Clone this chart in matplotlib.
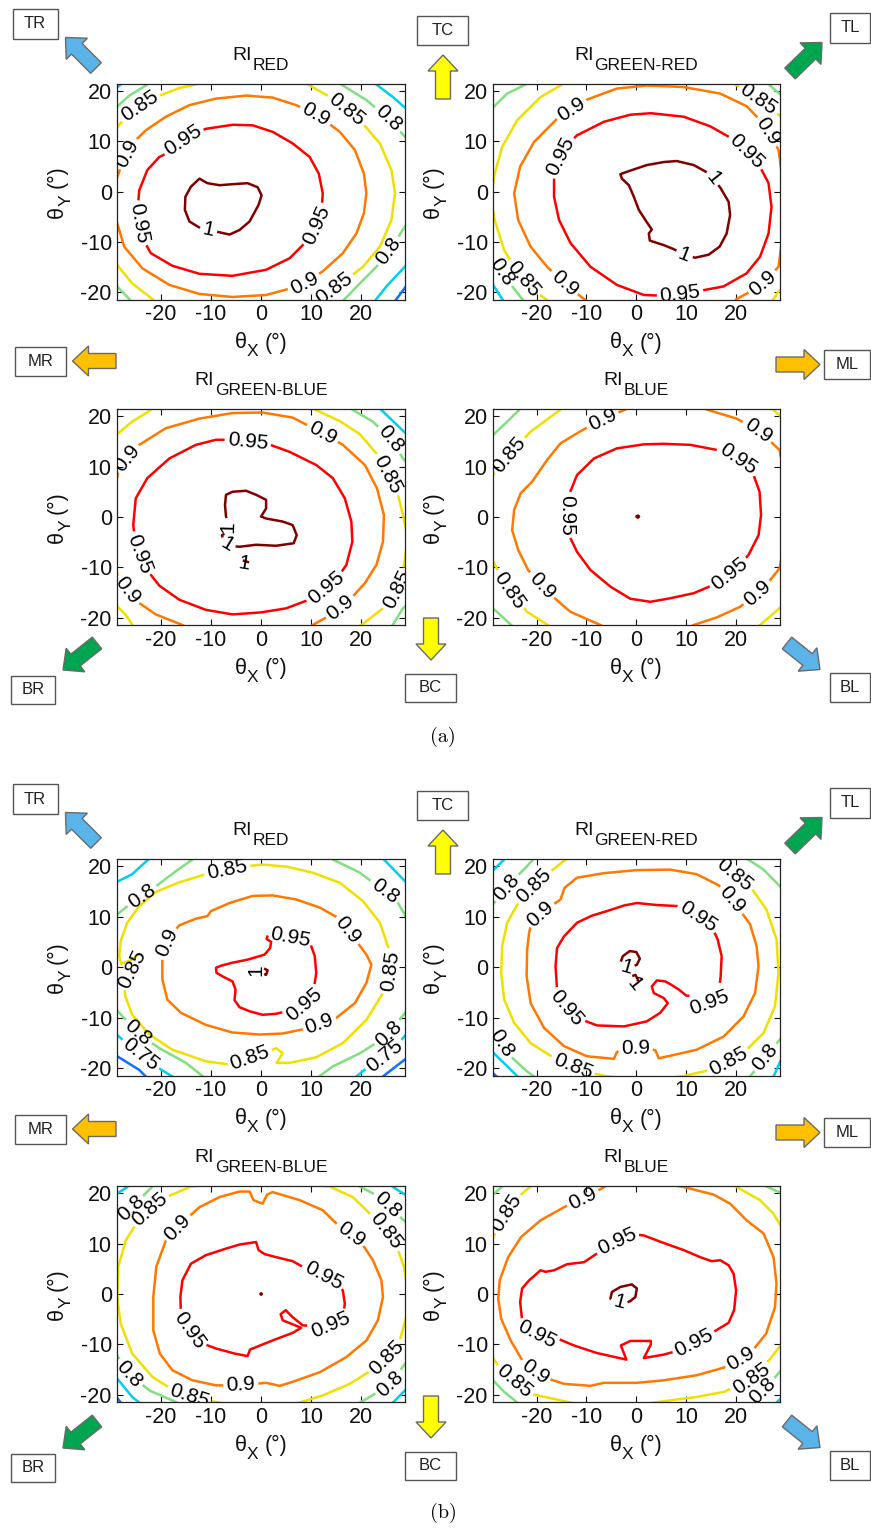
import matplotlib
matplotlib.use("Agg")
import matplotlib.pyplot as plt
from matplotlib.contour import ContourSet
from matplotlib.path import Path
from matplotlib.patches import FancyArrow, Rectangle
from matplotlib.transforms import Affine2D

W, H = 871, 1528
plt.rcParams['font.family'] = ['Liberation Sans', 'DejaVu Sans']
plt.rcParams['axes.unicode_minus'] = False

# contour level -> line colour (jet-like, as in the original MATLAB figure)
LEVEL_COLORS = {0.7: '#1070ff', 0.75: '#00d0f0', 0.8: '#80e080', 0.85: '#f0e000',
                0.9: '#ff7800', 0.95: '#ff0000', 1.0: '#800000'}
TICKS = [-20, -10, 0, 10, 20]
XLIM = (-28.8, 28.7)
YLIM = (-21.4, 21.4)

# ---- contour lines: level -> list of (thetaX, thetaY) polylines
# (a polyline whose last point equals its first is a closed contour)
A_RED = {
    1.0: [[(-12.3, 2.6), (-10.7, 1.7), (-8.3, 1.3), (-5.7, 1.5), (-2.7, 1.7), (-0.7, 0.9), (0.1, -0.7),
           (-0.5, -2.6), (-2.3, -5.9), (-4.3, -7.6), (-6.3, -8.5), (-9.0, -7.9), (-12.0, -7.3), (-14.3, -5.9),
           (-15.2, -3.6), (-15.1, -1.0), (-14.0, 1.0), (-12.3, 2.6)]],
    0.95: [[(-18.3, 7.9), (-15.0, 10.9), (-11.0, 12.5), (-5.7, 13.3), (-1.7, 13.2), (2.3, 11.9), (6.3, 9.6),
            (9.7, 6.9), (11.5, 3.6), (12.3, -0.3), (12.0, -4.3), (10.7, -7.6), (8.3, -10.6), (5.7, -13.2),
            (1.0, -15.5), (-5.7, -16.7), (-12.3, -16.3), (-17.7, -14.7), (-22.0, -12.2), (-24.0, -8.6),
            (-24.7, -4.3), (-24.3, 0.3), (-22.7, 4.3), (-20.3, 6.9), (-18.3, 7.9)]],
    0.9: [[(-29.0, 2.0), (-27.5, 6.3), (-25.7, 9.6), (-23.0, 12.2), (-19.0, 14.9), (-14.3, 17.2), (-9.0, 18.5),
           (-3.0, 19.1), (2.3, 18.7), (7.0, 17.2), (11.7, 14.9), (15.7, 11.9), (18.7, 8.3), (20.5, 3.6),
           (21.0, -0.3), (20.5, -4.3), (19.0, -8.3), (16.3, -12.2), (12.3, -15.8), (7.7, -18.7), (1.0, -20.5),
           (-5.7, -20.9), (-12.3, -20.3), (-18.3, -18.5), (-23.7, -15.2), (-27.3, -10.9), (-28.9, -5.6),
           (-31.0, -1.8), (-29.0, 2.0)]],
    0.85: [[(-29.5, 12.0), (-25.7, 16.2), (-21.0, 18.8), (-16.3, 20.6), (-13.0, 21.3), (-11.0, 22.5)],
           [(8.0, 22.3), (9.7, 21.1), (14.3, 18.5), (19.7, 14.2), (23.7, 9.6), (26.0, 4.3), (26.7, -0.3),
            (26.0, -5.6), (23.7, -10.9), (20.3, -14.9), (15.7, -18.5), (11.7, -21.3), (10.5, -22.5)],
           [(-29.5, -13.6), (-25.7, -18.2), (-21.7, -21.3), (-20.5, -22.5)]],
    0.8: [[(-29.5, 16.2), (-26.3, 19.1), (-23.0, 21.1), (-22.0, 22.0)],
          [(15.0, 22.0), (16.3, 21.1), (21.0, 18.2), (25.0, 14.9), (28.7, 10.9), (29.5, 10.0)],
          [(29.5, -6.0), (28.7, -6.9), (26.3, -10.6), (23.0, -14.9), (19.7, -18.2), (16.7, -21.3), (16.0, -22.0)],
          [(-29.5, -18.0), (-26.3, -21.3), (-25.8, -22.0)]],
    0.75: [[(-29.5, 20.0), (-28.0, 21.3), (-27.5, 22.0)],
           [(22.0, 22.0), (23.0, 21.3), (26.3, 18.8), (29.5, 16.0)],
           [(29.5, -14.0), (25.0, -18.8), (23.0, -21.3), (22.5, -22.0)]],
    0.7: [[(29.5, -18.0), (27.0, -21.3), (26.5, -22.0)]],
}
A_RED_LABELS = [(-10.7, -8.6), (-15.0, 9.6), (12.0, -7.0), (-24.3, -6.3), (-26.5, 7.5), (11.0, 15.5),
                (8.5, -18.0), (-24.0, 16.5), (17.0, 16.2), (14.3, -18.8), (25.0, 14.2), (26.0, -12.2)]

A_GR = {
    1.0: [[(-3.2, 3.5), (-1.2, 4.2), (2.1, 5.3), (5.5, 5.9), (8.1, 6.1), (11.5, 5.3), (14.8, 3.5), (16.9, 0.7),
           (18.5, -2.0), (18.8, -4.6), (18.1, -8.3), (16.7, -10.9), (14.5, -12.5), (11.8, -13.1), (9.5, -12.5),
           (7.5, -11.4), (5.5, -10.6), (2.7, -9.7), (2.5, -8.3), (3.1, -7.5), (2.0, -5.9), (0.5, -3.6),
           (-0.5, -1.0), (-1.5, 1.3), (-2.9, 2.6), (-3.2, 3.5)]],
    0.95: [[(-16.5, 3.6), (-14.9, 8.3), (-11.9, 11.2), (-6.5, 13.9), (-1.2, 15.3), (2.9, 15.6), (9.5, 14.9),
            (14.8, 13.0), (19.1, 10.6), (24.1, 6.3), (26.5, 1.7), (27.1, -3.0), (26.5, -8.3), (24.8, -12.9),
            (22.1, -16.2), (17.5, -18.8), (12.1, -19.8), (6.8, -20.7), (1.5, -20.5), (-3.9, -18.5),
            (-9.2, -14.9), (-13.2, -10.2), (-15.5, -5.6), (-16.5, -1.0), (-16.5, 3.6)]],
    0.9: [[(-9.5, -22.0), (-10.5, -21.3), (-13.9, -18.7), (-17.9, -14.9), (-21.2, -10.9), (-23.7, -5.6),
           (-24.5, -0.3), (-23.3, 5.0), (-20.5, 9.9), (-15.9, 14.5), (-9.9, 18.3), (-3.9, 20.5), (2.1, 21.1),
           (9.5, 20.8), (16.8, 19.5), (22.1, 17.0), (25.8, 13.2), (28.5, 8.3), (30.1, -3.0), (28.5, -14.9),
           (24.8, -18.8), (20.1, -21.3), (19.5, -22.0)]],
    0.85: [[(-14.0, 22.0), (-14.9, 21.3), (-19.2, 18.8), (-23.9, 14.2), (-26.9, 8.9), (-28.4, 3.6),
            (-29.2, -1.0), (-28.4, -5.6), (-26.5, -11.6), (-23.5, -16.5), (-19.9, -20.1), (-18.2, -21.3),
            (-17.5, -22.0)],
           [(19.0, 22.0), (19.8, 21.3), (23.8, 18.8), (29.5, 14.6)],
           [(29.5, -19.0), (28.5, -19.8), (27.5, -21.3), (27.0, -22.0)]],
    0.8: [[(-29.5, 16.0), (-25.9, 19.5), (-22.2, 21.3), (-21.5, 22.0)],
          [(26.0, 22.0), (26.8, 21.1), (29.5, 18.8)],
          [(-29.5, -12.0), (-25.9, -17.5), (-22.9, -21.3), (-22.3, -22.0)]],
    0.75: [[(-29.5, -17.3), (-26.9, -21.3), (-26.5, -22.0)]],
}
A_GR_LABELS = [(14.8, 2.3), (9.5, -12.9), (-13.9, 6.6), (21.8, 7.6), (8.8, -20.5), (-12.9, 16.2),
               (24.8, 11.2), (-14.5, -18.2), (26.1, -18.8), (24.1, 17.8), (-22.2, -16.8), (-27.5, -16.2)]

A_GB = {
    1.0: [[(-7.0, 4.4), (-5.7, 5.0), (-3.0, 5.2), (-1.0, 4.4), (1.0, 3.4), (1.0, 1.7), (0.0, 0.1), (1.0, -0.3),
           (4.3, -0.9), (6.3, -1.6), (7.1, -3.6), (6.5, -5.2), (3.0, -5.7), (-1.0, -5.5), (-4.3, -5.9),
           (-6.3, -5.7), (-7.5, -4.9), (-7.8, -3.6), (-6.7, -2.9), (-6.5, -1.6), (-7.0, 0.1), (-7.2, 2.4),
           (-7.0, 4.4)],
          [(-4.3, -8.8), (-3.7, -8.6), (-2.0, -9.1), (-3.7, -9.2), (-4.3, -8.8)]],
    0.95: [[(-6.3, 15.3), (1.0, 14.6), (5.7, 12.9), (11.0, 10.3), (14.3, 7.7), (16.7, 3.7), (18.0, -0.9),
            (18.2, -4.9), (17.0, -9.5), (14.7, -12.8), (10.3, -16.1), (5.0, -18.1), (0.0, -18.9), (-5.7, -19.3),
            (-11.0, -18.4), (-16.3, -16.4), (-20.3, -13.6), (-23.0, -10.2), (-24.9, -6.2), (-25.5, -1.6),
            (-25.0, 3.7), (-22.7, 7.7), (-18.3, 11.6), (-13.0, 14.3), (-9.0, 15.3), (-6.3, 15.3)]],
    0.9: [[(9.5, -22.0), (10.3, -21.4), (13.7, -19.5), (17.7, -16.4), (20.7, -13.1), (23.0, -9.5), (24.3, -4.9),
           (24.5, 0.4), (23.1, 5.7), (20.7, 10.3), (16.3, 14.3), (11.7, 16.9), (6.3, 19.7), (0.3, 20.7),
           (-5.7, 20.6), (-12.3, 19.5), (-19.0, 17.6), (-24.3, 14.3), (-28.3, 10.0), (-30.3, -0.3),
           (-28.7, -11.5), (-25.7, -16.1), (-21.0, -19.3), (-15.7, -21.4), (-14.5, -22.0)]],
    0.85: [[(-29.5, 15.8), (-25.7, 18.9), (-22.3, 21.0), (-21.5, 21.8)],
           [(10.0, 22.0), (10.7, 21.3), (15.7, 19.0), (19.7, 16.4), (23.0, 12.6), (25.3, 8.3), (27.3, 4.4),
            (28.3, 0.4), (29.3, -4.2), (28.5, -9.5), (27.3, -14.1), (24.3, -18.1), (20.0, -21.4), (19.0, -22.0)],
           [(-29.5, -16.9), (-27.0, -19.4), (-25.7, -21.3), (-25.3, -22.0)]],
    0.8: [[(17.5, 22.0), (18.3, 21.2), (22.3, 18.9), (25.7, 15.6), (28.3, 11.6), (29.0, 10.8)],
          [(29.5, -17.0), (28.3, -18.1), (26.3, -21.3), (26.0, -22.0)]],
    0.75: [[(23.3, 22.0), (24.0, 21.2), (28.5, 16.9), (29.5, 16.0)]],
}
A_GB_LABELS = [(-7.8, -1.7), (-7.3, -6.2), (-3.3, -10.0), (-2.7, 14.3), (13.7, -15.1), (-24.7, -7.5),
               (-26.7, 11.6), (11.7, 15.6), (16.7, -19.1), (-27.0, -14.8), (25.0, 8.3), (26.7, -14.1),
               (25.0, 14.9)]

A_BLUE = {
    1.0: [[(0.0, 0.1), (0.3, 0.3), (0.55, 0.1), (0.3, -0.15), (0.0, 0.1)]],
    0.95: [[(-13.5, 4.4), (-11.9, 8.3), (-8.5, 11.6), (-3.9, 13.6), (1.5, 14.4), (5.5, 14.5), (10.8, 14.3),
            (16.1, 13.3), (20.8, 11.3), (23.5, 8.3), (24.7, 5.0), (25.0, 0.4), (24.5, -3.6), (22.5, -7.5),
            (19.5, -10.8), (15.8, -13.3), (11.5, -15.1), (6.8, -16.1), (2.8, -16.8), (-1.2, -16.2),
            (-5.2, -13.8), (-9.2, -10.5), (-11.9, -6.9), (-13.5, -3.6), (-13.9, 0.4), (-13.5, 4.4)]],
    0.9: [[(-1.5, 22.0), (-2.2, 21.3), (-6.5, 19.5), (-11.2, 17.0), (-15.2, 14.6), (-17.9, 11.3), (-20.9, 7.0),
           (-23.2, 4.7), (-24.5, 1.4), (-24.9, -2.6), (-23.7, -6.5), (-21.7, -10.5), (-17.9, -14.8),
           (-13.2, -18.8), (-7.2, -21.4), (-6.0, -22.0)],
          [(13.0, 22.0), (14.1, 21.3), (20.1, 19.5), (24.8, 16.9), (28.7, 13.3), (31.0, 1.5), (28.7, -10.2),
           (25.5, -14.1), (20.8, -17.8), (16.1, -19.9), (11.5, -21.4), (10.5, -22.0)]],
    0.85: [[(-14.5, 22.0), (-15.2, 21.3), (-21.2, 16.9), (-25.2, 12.9), (-28.7, 8.3), (-29.5, 7.0)],
           [(-29.5, -7.5), (-28.7, -8.8), (-25.9, -14.1), (-21.9, -18.8), (-17.9, -21.3), (-17.0, -22.0)],
           [(27.0, 22.0), (27.5, 21.2), (29.5, 19.5)],
           [(24.0, -22.0), (24.8, -21.4), (29.5, -17.4)]],
    0.8: [[(-29.5, 15.5), (-25.9, 18.9), (-23.5, 21.2), (-23.0, 22.0)],
          [(-29.5, -17.4), (-25.2, -21.3), (-24.5, -22.0)]],
}
A_BLUE_LABELS = [(-13.9, 0.4), (19.8, 10.0), (18.8, -11.5), (-6.2, 18.2), (-19.2, -13.8), (24.1, 16.6),
                 (24.8, -15.8), (-24.5, 11.6), (-26.2, -15.1)]

B_RED = {
    1.0: [[(-1.0, -0.5), (0.3, -0.1), (1.3, -0.6), (1.0, -1.5), (0.0, -1.1), (-1.0, -0.5)]],
    0.95: [[(-9.0, -0.1), (-8.0, 0.3), (-5.7, 0.9), (-2.7, 1.5), (0.7, 2.5), (1.8, 3.8), (2.0, 5.0), (1.1, 5.6),
            (1.3, 6.3), (3.0, 6.5), (6.3, 5.8), (9.7, 5.0), (10.7, 2.2), (11.0, -1.1), (10.5, -4.4), (9.0, -7.1),
            (6.3, -8.4), (3.0, -9.2), (0.3, -9.4), (-2.3, -8.7), (-4.3, -7.9), (-5.3, -6.5), (-5.1, -4.4),
            (-5.7, -2.8), (-7.5, -1.9), (-8.9, -1.1), (-9.0, -0.1)]],
    0.9: [[(-19.7, 1.5), (-18.7, 5.5), (-16.3, 8.3), (-13.0, 9.6), (-10.7, 10.1), (-10.0, 11.1), (-6.3, 12.7),
           (-1.7, 14.1), (2.3, 14.2), (7.0, 13.4), (11.7, 11.8), (15.3, 9.8), (18.3, 6.1), (21.0, 2.5),
           (22.0, 0.5), (21.0, -3.1), (18.7, -7.1), (15.0, -10.0), (9.7, -12.0), (4.3, -13.1), (-0.3, -13.3),
           (-5.7, -12.9), (-11.0, -11.4), (-16.0, -9.0), (-18.7, -6.4), (-19.7, -2.4), (-19.7, 1.5)]],
    0.85: [[(-2.7, 20.0), (-6.3, 19.3), (-11.0, 18.4), (-16.3, 16.8), (-21.0, 14.9), (-24.3, 12.1), (-26.7, 8.8),
            (-28.0, 5.2), (-28.3, 2.2), (-27.9, 0.7), (-26.0, 1.4), (-23.8, 3.0), (-23.9, 1.5), (-26.0, -0.8),
            (-27.3, -2.8), (-27.1, -5.7), (-25.7, -9.4), (-22.3, -13.3), (-17.7, -16.3), (-11.0, -18.6),
            (-5.7, -19.3), (-0.3, -17.3), (3.0, -16.0), (4.3, -17.0), (3.1, -18.9), (5.7, -18.9), (11.0, -17.8),
            (16.3, -15.0), (21.0, -10.4), (24.3, -5.1), (25.7, -1.1), (25.5, 3.5), (23.7, 8.8), (20.3, 13.1),
            (15.7, 16.7), (10.3, 18.7), (5.0, 19.9), (0.3, 20.3), (-2.7, 20.0)]],
    0.8: [[(-29.5, 9.8), (-26.0, 12.6), (-21.0, 16.0), (-17.0, 19.0), (-13.7, 21.3), (-13.0, 22.0)],
          [(13.5, 22.0), (14.3, 21.3), (19.7, 18.7), (23.7, 15.7), (26.7, 13.7), (29.5, 9.0)],
          [(-29.5, -7.7), (-24.3, -13.3), (-20.3, -16.0), (-15.0, -18.9), (-11.7, -21.5), (-11.0, -22.0)],
          [(29.5, -8.0), (25.0, -13.7), (19.7, -17.0), (14.3, -19.6), (11.7, -21.5), (11.0, -22.0)]],
    0.75: [[(-29.5, 16.5), (-25.7, 18.4), (-22.3, 21.5), (-21.7, 22.0)],
           [(23.7, 22.0), (24.3, 21.5), (29.5, 16.2)],
           [(-29.5, -12.8), (-24.3, -17.0), (-21.0, -19.6), (-17.7, -21.6), (-17.0, -22.0)],
           [(29.5, -12.6), (26.3, -16.3), (21.0, -20.0), (19.0, -21.6), (18.3, -22.0)]],
    0.7: [[(-29.5, -17.1), (-24.3, -20.3), (-23.0, -21.6), (-22.5, -22.0)],
          [(29.5, -17.6), (24.3, -21.6), (23.7, -22.0)]],
}
B_RED_LABELS = [(-1.3, -1.1), (5.7, 5.1), (8.3, -6.7), (-18.7, 4.8), (17.0, 7.1), (11.7, -11.4),
                (-6.7, 19.0), (-24.5, -1.5), (-2.3, -17.8), (26.0, -0.8), (-23.7, 14.0), (24.0, 14.1),
                (-25.5, -13.8), (24.3, -12.3), (-24.5, -17.8), (24.3, -17.0)]

B_GR = {
    1.0: [[(-3.2, 0.9), (-2.7, 2.2), (-1.3, 3.2), (0.0, 3.0), (0.7, 1.7), (0.1, 0.5), (-1.2, -0.1), (-2.4, 0.1),
           (-3.2, 0.9)],
          [(-0.9, -1.8), (-0.2, -1.5), (0.3, -2.4), (0.1, -3.8), (-0.5, -3.4), (-0.7, -2.4), (-0.9, -1.8)]],
    0.95: [[(-15.9, -4.4), (-16.2, 0.2), (-15.9, 3.8), (-14.5, 6.1), (-11.9, 8.8), (-8.9, 10.2), (-5.9, 11.1),
            (-2.5, 12.2), (0.1, 12.7), (4.1, 12.3), (8.1, 12.1), (12.1, 10.2), (15.1, 8.1), (16.3, 5.5),
            (17.1, 2.2), (16.9, -1.8), (16.5, -5.1), (14.1, -7.4), (12.5, -6.4), (11.5, -5.7), (10.0, -5.6),
            (8.5, -4.4), (6.9, -3.4), (5.8, -2.8), (4.1, -2.6), (3.1, -3.8), (3.5, -5.1), (5.5, -6.1),
            (6.3, -7.1), (4.8, -9.0), (2.1, -10.7), (-2.5, -11.7), (-7.9, -11.5), (-11.9, -10.0),
            (-14.5, -7.7), (-15.9, -4.4)]],
    0.9: [[(-21.5, 6.8), (-20.9, 9.4), (-18.5, 11.1), (-15.2, 13.4), (-14.4, 15.7), (-11.9, 17.7), (-6.5, 18.6),
           (0.1, 19.2), (6.8, 19.3), (12.1, 18.4), (16.5, 16.2), (20.1, 12.2), (22.8, 8.5), (24.1, 4.2),
           (24.5, 0.2), (23.8, -5.1), (21.5, -9.7), (17.5, -13.7), (12.1, -16.3), (6.8, -17.5), (4.5, -18.0),
           (3.8, -16.4), (1.5, -16.0), (-2.5, -16.0), (-3.9, -16.8), (-4.5, -18.1), (-9.9, -17.6),
           (-14.5, -15.6), (-18.5, -12.0), (-21.2, -7.1), (-22.0, -1.8), (-21.9, 3.5), (-21.5, 6.8)]],
    0.85: [[(-13.9, 21.5), (-19.2, 17.4), (-23.7, 12.7), (-25.9, 8.8), (-26.9, 4.2), (-27.1, -1.1), (-26.5, -6.4),
            (-24.5, -11.0), (-21.2, -15.0), (-15.9, -18.3), (-10.5, -20.6), (-6.2, -21.5), (1.5, -22.5),
            (9.5, -21.5), (14.8, -20.3), (20.8, -17.6), (25.5, -13.0), (27.8, -7.7), (28.5, -1.1), (28.1, 5.5),
            (26.1, 11.4), (22.8, 16.0), (18.8, 19.0), (16.1, 21.5), (1.5, 22.5), (-13.9, 21.5)]],
    0.8: [[(-29.5, 11.5), (-25.9, 16.0), (-21.9, 20.0), (-20.5, 21.5), (-20.0, 22.0)],
          [(21.5, 22.0), (22.1, 21.5), (25.5, 19.3), (29.5, 15.3)],
          [(-29.5, -11.0), (-25.9, -17.0), (-21.9, -20.6), (-20.5, -21.6), (-20.0, -22.0)],
          [(29.5, -13.4), (25.5, -18.3), (22.8, -21.6), (22.5, -22.0)]],
    0.75: [[(-29.5, 18.4), (-26.2, 21.6), (-25.8, 22.0)],
           [(-29.5, -16.1), (-23.9, -21.5), (-23.4, -22.0)],
           [(29.5, -17.2), (27.5, -21.6), (27.3, -22.0)]],
    0.7: [[(-29.5, -20.3), (-28.0, -21.6), (-27.5, -22.0)]],
}
B_GR_LABELS = [(-2.2, -1.1), (-1.5, -3.8), (-14.9, -9.0), (11.8, 9.1), (15.1, -7.4), (-18.5, 9.4),
               (18.8, 13.0), (-0.2, -16.4), (-20.2, 15.7), (-12.9, -19.9), (19.5, 18.0), (18.5, -18.6),
               (-25.5, 15.4), (-26.9, -15.0), (26.1, -18.0)]

B_GB = {
    1.0: [[(-0.15, 0.0), (0.0, 0.15), (0.15, 0.0), (0.0, -0.15), (-0.15, 0.0)]],
    0.95: [[(-16.0, -3.9), (-16.1, -0.6), (-15.7, 2.7), (-14.0, 6.0), (-11.0, 7.7), (-7.0, 9.0), (-4.3, 9.8),
            (-1.0, 10.3), (-0.5, 8.7), (0.7, 7.9), (3.0, 7.3), (6.3, 6.5), (8.3, 5.4), (15.0, 2.4), (16.3, 0.7),
            (16.7, -1.9), (16.3, -4.6), (13.7, -6.2), (10.7, -6.4), (8.3, -6.2), (6.3, -4.6), (4.9, -3.2),
            (3.9, -4.0), (4.3, -5.2), (8.0, -6.7), (6.3, -7.7), (2.3, -9.2), (-0.7, -10.4), (-2.2, -11.0),
            (-2.7, -12.3), (-5.3, -11.8), (-9.0, -10.8), (-11.7, -9.8), (-14.0, -7.9), (-16.0, -3.9)]],
    0.9: [[(-4.3, 20.3), (-2.3, 20.3), (-1.5, 18.6), (0.3, 17.9), (1.2, 19.7), (2.3, 20.2), (7.7, 18.6),
           (12.3, 16.6), (15.7, 13.3), (19.7, 10.6), (22.3, 6.7), (24.0, 2.7), (24.3, -0.6), (23.3, -5.2),
           (21.0, -9.2), (17.0, -12.5), (11.7, -15.5), (6.3, -17.4), (3.7, -18.2), (1.0, -17.6), (-4.3, -18.1),
           (-9.0, -18.1), (-13.7, -17.1), (-17.7, -15.1), (-20.2, -11.8), (-21.5, -7.2), (-21.5, -0.6),
           (-20.9, 5.4), (-19.0, 10.6), (-16.0, 13.9), (-12.3, 17.2), (-8.3, 19.2), (-4.3, 20.3)]],
    0.85: [[(-14.0, 21.3), (-20.3, 18.6), (-24.3, 14.9), (-27.0, 10.6), (-28.5, 5.4), (-28.7, -0.6),
            (-28.0, -5.9), (-25.7, -11.8), (-21.7, -16.4), (-17.0, -19.4), (-12.3, -20.9), (-8.3, -21.5),
            (-0.3, -23.0), (7.7, -21.5), (12.3, -20.1), (17.7, -17.8), (23.0, -14.5), (27.3, -10.5),
            (29.7, -1.9), (28.5, 5.4), (27.3, 8.7), (25.0, 12.3), (21.7, 15.9), (18.3, 19.2), (13.7, 21.3),
            (-0.3, 22.5), (-14.0, 21.3)]],
    0.8: [[(-29.5, 14.0), (-25.7, 17.2), (-21.7, 21.3), (-21.0, 22.0)],
          [(19.0, 22.0), (19.7, 21.3), (23.7, 19.2), (27.0, 15.9), (29.5, 13.7)],
          [(-29.5, -11.0), (-26.3, -15.8), (-22.3, -19.1), (-17.0, -21.4), (-16.0, -22.0)],
          [(29.5, -12.8), (25.7, -17.8), (21.7, -20.4), (19.7, -21.5), (19.0, -22.0)]],
    0.75: [[(-29.5, 19.4), (-26.7, 21.2), (-26.0, 22.0)],
           [(25.5, 22.0), (26.3, 21.2), (29.5, 19.2)],
           [(-29.5, -15.8), (-25.7, -20.4), (-24.3, -21.5), (-23.8, -22.0)],
           [(29.5, -18.3), (26.3, -21.5), (25.8, -22.0)]],
    0.7: [[(-29.5, -19.6), (-28.0, -21.5), (-27.6, -22.0)]],
}
B_GB_LABELS = [(-15.0, -7.5), (12.0, 2.7), (14.3, -6.9), (-16.3, 12.9), (17.3, 11.0), (-4.0, -18.5),
               (-21.3, 15.9), (24.3, 11.9), (-14.3, -20.0), (25.0, -12.5), (-25.8, 16.7), (24.7, 17.2),
               (-26.7, -16.1), (26.0, -18.0)]

B_BLUE = {
    1.0: [[(-5.2, -0.9), (-4.9, 0.4), (-3.2, 1.4), (-0.9, 1.9), (0.1, 1.1), (-0.2, -0.6), (-1.2, -1.4),
           (-2.5, -1.9), (-3.9, -1.6), (-5.2, -0.9)]],
    0.95: [[(-0.5, 11.8), (-3.9, 10.3), (-7.5, 8.3), (-10.5, 6.3), (-13.9, 5.9), (-16.5, 4.7), (-18.2, 4.4),
            (-19.2, 4.7), (-21.5, 2.7), (-22.9, 1.1), (-23.3, -1.6), (-22.9, -5.2), (-21.2, -7.5), (-18.5, -8.5),
            (-15.9, -8.8), (-12.5, -10.2), (-7.9, -11.7), (-2.0, -13.0), (-3.1, -10.2), (-1.2, -9.3),
            (2.9, -9.3), (2.9, -10.0), (1.5, -12.7), (5.5, -12.0), (8.5, -11.2), (12.1, -9.5), (15.5, -7.5),
            (18.5, -5.7), (19.6, -3.2), (20.0, 0.7), (19.5, 4.0), (18.5, 5.7), (16.8, 6.7), (15.1, 6.5),
            (12.8, 7.3), (9.5, 8.7), (5.5, 10.1), (1.5, 11.6), (-0.5, 11.8)]],
    0.9: [[(-5.9, 21.5), (-9.9, 19.3), (-14.5, 17.2), (-19.2, 14.6), (-23.1, 11.3), (-25.7, 7.3), (-27.4, 2.7),
           (-27.7, -0.9), (-27.1, -4.9), (-25.2, -9.2), (-22.9, -13.1), (-19.2, -16.3), (-14.5, -17.8),
           (-9.2, -18.2), (-6.5, -17.6), (0.1, -17.6), (5.5, -17.1), (12.1, -16.1), (17.5, -14.6),
           (22.8, -11.8), (26.0, -7.9), (27.8, -2.6), (28.1, 2.1), (27.5, 7.3), (25.5, 12.0), (22.1, 14.6),
           (18.8, 17.9), (15.5, 19.7), (9.5, 21.2), (1.5, 22.5), (-5.9, 21.5)]],
    0.85: [[(-20.5, 22.0), (-21.2, 21.3), (-24.5, 18.6), (-28.7, 11.3), (-29.5, 10.0)],
           [(19.3, 22.0), (20.1, 21.2), (24.8, 18.6), (27.5, 15.9), (28.7, 13.9), (29.5, 12.8)],
           [(-29.5, -11.3), (-28.9, -12.5), (-26.5, -15.8), (-21.2, -19.8), (-13.2, -21.5), (-12.0, -21.9)],
           [(29.5, -9.5), (28.7, -10.5), (25.5, -14.5), (22.8, -17.1), (17.5, -19.4), (12.1, -20.4),
            (3.5, -21.5), (2.5, -21.9)]],
    0.8: [[(-29.5, 19.0), (-26.9, 21.3), (-26.3, 22.0)],
          [(25.5, 22.0), (26.1, 21.3), (29.5, 19.8)],
          [(-29.5, -16.3), (-26.5, -19.4), (-23.9, -21.5), (-23.3, -22.0)],
          [(29.5, -14.5), (28.7, -15.5), (25.5, -19.1), (22.8, -21.5), (22.5, -22.0)]],
    0.75: [[(29.5, -20.2), (28.1, -21.5), (27.8, -22.0)]],
}
B_BLUE_LABELS = [(-3.5, -1.9), (-3.5, 9.6), (-20.2, -8.8), (11.8, -10.2), (-10.5, 18.5), (-21.2, -16.4),
                 (21.1, -13.1), (-24.5, 15.2), (-24.9, -17.8), (22.8, -16.6), (25.5, -19.4)]

# subplot titles (main, subscript) and which data goes where
SUBPLOTS = [
    ('a', 0, 0, A_RED, A_RED_LABELS, 'RED'),
    ('a', 0, 1, A_GR, A_GR_LABELS, 'GREEN-RED'),
    ('a', 1, 0, A_GB, A_GB_LABELS, 'GREEN-BLUE'),
    ('a', 1, 1, A_BLUE, A_BLUE_LABELS, 'BLUE'),
    ('b', 0, 0, B_RED, B_RED_LABELS, 'RED'),
    ('b', 0, 1, B_GR, B_GR_LABELS, 'GREEN-RED'),
    ('b', 1, 0, B_GB, B_GB_LABELS, 'GREEN-BLUE'),
    ('b', 1, 1, B_BLUE, B_BLUE_LABELS, 'BLUE'),
]

# viewing-direction markers: name, box (cx, cy, w, h) in panel (a) pixels, arrow tail, tip, colour
MARKERS = [
    ('TR', (35, 24, 45, 30), (96, 68), (65.5, 37.5), '#5ab4ea', 0),
    ('TC', (442.5, 30.5, 51, 29), (443, 99), (443, 55), '#ffff00', 0),
    ('TL', (850, 27.5, 40, 30), (790, 73.5), (822, 42.5), '#00a54f', 0),
    ('MR', (40.5, 361.5, 51, 29), (116, 361), (72.5, 361), '#ffc000', 1),
    ('ML', (847, 364.5, 46, 29), (776, 364.5), (820, 364.5), '#ffc000', 1),
    ('BR', (33, 690, 44, 28), (97, 643), (63, 670), '#00a54f', 2),
    ('BC', (430.5, 688, 51, 28), (431, 618), (431, 660), '#ffff00', 2),
    ('BL', (850, 687.5, 40, 29), (787, 643), (820, 669.5), '#5ab4ea', 2),
]
PANEL_B_SHIFT = [775, 768, 778]  # vertical offset of panel (b) rows of markers

# axes boxes in pixels: columns (left, right), rows (top, bottom) per panel
COLS = [(116.7, 405.0), (492.7, 779.5)]
ROWS = {'a': [(84, 299.5), (409, 625)], 'b': [(859, 1075.5), (1186, 1402)]}

fig = plt.figure(figsize=(W / 100, H / 100), dpi=100)
PX = Affine2D().scale(1 / W, -1 / H).translate(0, 1) + fig.transFigure
renderer = fig.canvas.get_renderer()


def rich_text(x, y, pieces, rotation=0):
    # pieces: (text, size, baseline shift px, gap before px); (x, y) = middle of the run
    arts = [fig.text(0, 0, s, fontsize=fs, ha='left', va='baseline', rotation=rotation,
                     rotation_mode='anchor', transform=PX, color='#111111') for s, fs, _, _ in pieces]
    lens = []
    for a in arts:
        bb = a.get_window_extent(renderer)
        lens.append(bb.width if rotation == 0 else bb.height)
    total = sum(lens) + sum(p[3] for p in pieces)
    pos = -total / 2
    for a, L, (s, fs, dy, gap) in zip(arts, lens, pieces):
        pos += gap
        if rotation == 0:
            a.set_position((x + pos, y + dy))
        else:
            a.set_position((x + dy, y - pos))
        pos += L


def contour_lines(ax, curves):
    levels = sorted(curves)
    segs, kinds = [], []
    for lev in levels:
        lev_segs, lev_kinds = [], []
        for c in curves[lev]:
            codes = [Path.LINETO] * len(c)
            codes[0] = Path.MOVETO
            if c[0] == c[-1]:
                codes[-1] = Path.CLOSEPOLY
            lev_segs.append(c)
            lev_kinds.append(codes)
        segs.append(lev_segs)
        kinds.append(lev_kinds)
    return ContourSet(ax, levels, segs, kinds, colors=[LEVEL_COLORS[l] for l in levels], linewidths=1.8)


for panel, r, c, curves, label_pts, sub in SUBPLOTS:
    left, right = COLS[c]
    top, bottom = ROWS[panel][r]
    ax = fig.add_axes([left / W, 1 - bottom / H, (right - left) / W, (bottom - top) / H])
    cs = contour_lines(ax, curves)
    ax.set_xlim(*XLIM)
    ax.set_ylim(*YLIM)
    ax.set_xticks(TICKS)
    ax.set_yticks(TICKS)
    ax.tick_params(direction='in', top=True, right=True, length=4, width=0.8,
                   labelsize=15.5, pad=3.5, colors='#111111')
    for s in ax.spines.values():
        s.set_linewidth(0.9)
        s.set_color('#222222')
    ax.clabel(cs, manual=label_pts, inline=True, inline_spacing=3, fontsize=15,
              colors='k', fmt=lambda v: f'{v:g}')

    cx = (left + right) / 2
    cy = (top + bottom) / 2
    rich_text(cx, top - 24, [('RI', 14, 0, 0), (sub, 12.5, 10, 1)])
    rich_text(cx, bottom + 49, [('θ', 15.5, 0, 0), ('X', 12.5, 8, 0), ('(°)', 15.5, 0, 6)])
    rich_text(left - 54, cy, [('θ', 15.5, 0, 0), ('Y', 12.5, 8, 0), ('(°)', 15.5, 0, 6)], rotation=90)

for shift_set, panel in [((0, 0, 0), 'a'), (tuple(PANEL_B_SHIFT), 'b')]:
    for name, (bx, by, bw, bh), tail, tip, color, row in MARKERS:
        dy = shift_set[row]
        fig.add_artist(Rectangle((bx - bw / 2, by + dy - bh / 2), bw, bh, transform=PX,
                                 fc='white', ec='#555555', lw=1.0))
        fig.text(bx, by + dy, name, transform=PX, ha='center', va='center', fontsize=12, color='#222222')
        fig.add_artist(FancyArrow(tail[0], tail[1] + dy, tip[0] - tail[0], tip[1] - tail[1],
                                  width=15, head_width=30, head_length=16, length_includes_head=True,
                                  transform=PX, fc=color, ec='#6a6a6a', lw=1.0))

fig.text(443, 737, '(a)', transform=PX, ha='center', va='center', fontsize=14.5, family='cmr10')
fig.text(443, 1513, '(b)', transform=PX, ha='center', va='center', fontsize=14.5, family='cmr10')

fig.savefig('out.png', dpi=100)
